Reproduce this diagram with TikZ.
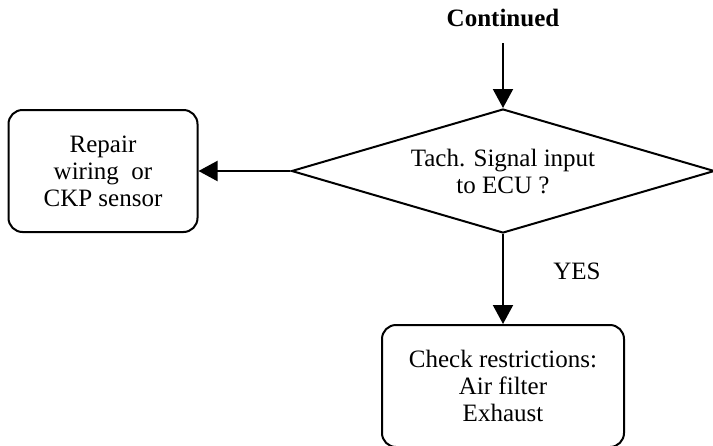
\documentclass[tikz,border=0pt]{standalone}
\usepackage{fontspec}
\setmainfont{Liberation Serif}
\usetikzlibrary{shapes.geometric,positioning,arrows.meta}

\begin{document}
\begin{tikzpicture}[x=1pt,y=-1pt,line width=2pt,
	>={Triangle[length=19pt,width=20pt]},
	font=\fontsize{25}{27}\selectfont,
	decision/.style={diamond,draw,aspect=3.4,inner sep=0pt,
		minimum width=423pt,minimum height=124pt,align=center},
	block/.style={rectangle,draw,rounded corners=14pt,align=center,
		minimum height=122pt}]
	\useasboundingbox (0,0) rectangle (713,445);
	\node[decision] (tach) at (503,171) {Tach. Signal input\\to ECU ?};
	\node[font=\fontsize{25}{27}\selectfont\bfseries,inner ysep=15pt]
		(cont) [above=65pt of tach] {Continued};
	\node[block,minimum width=189pt] (repair) [left=92pt of tach]
		{Repair\\wiring\ \ or\\CKP sensor};
	\node[block,minimum width=242pt] (check) [below=90pt of tach]
		{Check restrictions:\\Air filter\\Exhaust};
	\path[->]
	(cont) edge (tach)
	(tach) edge (repair)
	edge node [right=46pt,pos=0.42] {YES} (check);
\end{tikzpicture}
\end{document}
